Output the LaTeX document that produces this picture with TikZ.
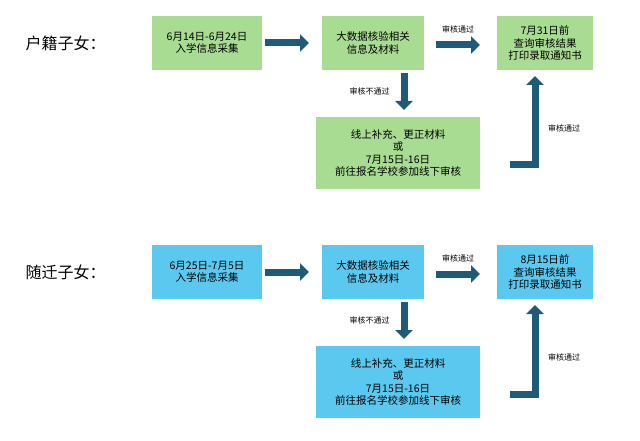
\documentclass[tikz,border=0pt]{standalone}
\usepackage{fontspec}
\setmainfont{Noto Sans CJK SC}
\usetikzlibrary{arrows.meta}
\definecolor{boxgreen}{HTML}{A9DC93}
\definecolor{boxblue}{HTML}{5BC8EF}
\definecolor{arrowblue}{HTML}{1F5A78}
\tikzset{
  stepbox/.style={inner sep=0pt, align=center, font=\fontsize{10.5}{12.5}\selectfont},
  fat/.style={draw=arrowblue, line width=7pt, -{Triangle[length=9pt,width=17pt]}},
  note/.style={font=\fontsize{8}{9}\selectfont, inner sep=1pt}
}
\begin{document}
\begin{tikzpicture}[x=1pt,y=-1pt]
\useasboundingbox (0,0) rectangle (640,441);
\foreach \r/\dy/\col/\ta/\tb/\tc in {1/0/boxgreen/户籍子女：/6月14日-6月24日/7月31日前,
                                     2/229/boxblue/随迁子女：/6月25日-7月5日/8月15日前}{
  \node[font=\fontsize{16}{18}\selectfont, anchor=west] (t\r) at (22,43+\dy) {\ta};
  % boxes
  \fill[\col] (152,16+\dy) rectangle (262,70+\dy);
  \node[stepbox] (a\r) at (207,43+\dy) {\tb\\入学信息采集};
  \fill[\col] (322,16+\dy) rectangle (424,70+\dy);
  \node[stepbox] (b\r) at (373,43+\dy) {大数据核验相关\\信息及材料};
  \fill[\col] (497,16+\dy) rectangle (593,70+\dy);
  \node[stepbox] (c\r) at (545,43+\dy) {\tc\\查询审核结果\\打印录取通知书};
  \fill[\col] (316,117+\dy) rectangle (480,189+\dy);
  \node[stepbox] (d\r) at (398,153+\dy) {线上补充、更正材料\\或\\7月15日-16日\\前往报名学校参加线下审核};
  % arrows
  \coordinate (a\r e) at (265,43+\dy);
  \coordinate (b\r w) at (309,43+\dy);
  \draw[fat] (a\r e) -- (b\r w);
  \coordinate (b\r e) at (436,45+\dy);
  \coordinate (c\r w) at (480,45+\dy);
  \draw[fat] (b\r e) -- (c\r w) node[note, midway, above=7pt] {审核通过};
  \coordinate (b\r s) at (404,73+\dy);
  \coordinate (d\r n) at (404,110+\dy);
  \draw[fat] (b\r s) -- (d\r n) node[note, midway, left=10pt] {审核不通过};
  \coordinate (d\r e) at (510,165+\dy);
  \coordinate (c\r s) at (535,76+\dy);
  \draw[fat] (d\r e) -| (c\r s);
  \node[note] (l\r) at (564,128+\dy) {审核通过};
}
\end{tikzpicture}
\end{document}
